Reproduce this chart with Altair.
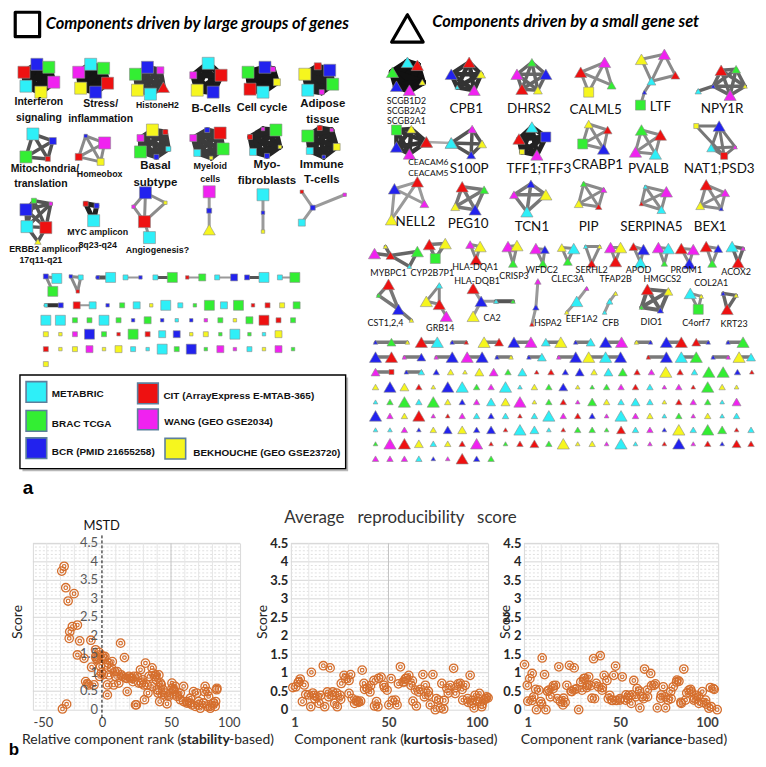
import altair as alt
import pandas as pd
from itertools import combinations

# ---------------- panel b data ----------------
STAB_RANK = [-29.1, -27.4, -26.2, -20.2, -24.5, -17.8, -21.4, -23.3, -23.7, -16.1, -8.0, -17.8, -13.0, -4.6, -4.2,
             -7.5, -1.7, -11.8, -10.6, -5.8, 3.9, 3.9, 2.1, 3.3, 7.5, 9.4, 13.5, 16.3, 8.5, 12.2, 18.3, 14.7, 17.1,
             20.7, 23.1, 24.3, 26.7, 27.9, 30.3, 31.5, 30.8, 34.0, 36.3, 35.9, 38.8, 40.0, 41.2, 42.4, 43.6, 47.1,
             48.3, 50.7, 51.9, 53.1, 54.3, 56.7, 59.1, 61.5, 63.9, 66.3, 68.7, 69.9, 73.5, 74.7, 76.7, 78.3, 80.7,
             83.1, 82.3, -28.6, -25.6, -3.3, -4.5, 1.4, -1.0, 4.6, 7.0, 5.1, 11.1, 9.9, 14.0, 17.8, 19.5, 21.9, 22.4,
             25.5, 28.5, 29.6, 32.7, 36.9, 38.2, 39.4, 42.9, 44.2, 46.0, 48.4, 50.8, 52.0, 54.4, 56.8, 59.2, 61.6,
             64.0, 65.2, 67.6, 70.0, 71.2, 73.6, 76.0, 78.4, 80.8, 82.0, 74.1, 77.2, 83.2, 41.8, 24.9, 40.6, 33.3,
             -9.6, -2.0, 0.5, -0.3, 1.0]
STAB_SCORE = [3.75, 3.88, 3.30, 3.14, 2.94, 2.29, 2.25, 2.11, 1.93, 1.86, 1.88, 1.48, 1.39, 1.62, 1.39,
              1.15, 0.90, 0.76, 0.70, 0.67, 0.67, 0.40, 1.44, 1.21, 1.30, 1.03, 1.80, 1.41, 0.67, 0.72, 0.49, 0.90,
              0.86, 0.86, 0.90, 0.13, 0.72, 1.08, 0.67, 1.26, 0.27, 0.90, 1.13, 0.63, 0.94, 0.54, 0.94, 0.72, 0.40,
              0.16, 0.40, 0.72, 0.54, 0.63, 0.36, 0.45, 0.63, 0.22, 0.18, 0.49, 0.45, 0.13, 0.18, 0.63, 0.49, 0.09,
              0.18, 0.54, 0.22, 0.02, 0.15, 1.35, 1.44, 1.39, 1.17, 1.26, 1.12, 0.94, 1.03, 0.90, 0.94, 0.85, 0.90,
              0.85, 0.76, 0.90, 0.72, 0.81, 0.67, 0.99, 0.90, 0.81, 0.67, 0.54, 0.45, 0.36, 0.58, 0.49, 0.40, 0.27,
              0.22, 0.18, 0.31, 0.13, 0.09, 0.22, 0.04, 0.18, 0.09, 0.04, 0.18, 0.09, 0.49, 0.36, 0.58, 0.22, 0.13,
              0.45, 0.45, 0.67, 1.55, 1.45, 1.00, 0.95]

KURT_RANK = [3.5, 4.7, 5.7, 7.7, 8.5, 6.8, 11, 11.3, 12.7, 14.3, 15.2, 16, 17.3, 18, 19.3, 20.7, 21.8, 23, 24.3,
             25.7, 26.3, 27.7, 28.5, 30.2, 30.2, 31.8, 33, 34.7, 36, 36.8, 37.7, 39.3, 40.7, 42.7, 44, 44.7, 46.3,
             47.7, 49.3, 50.2, 51.3, 53.5, 54.3, 56, 57.3, 58.5, 60.2, 61.3, 62.3, 63.5, 65.2, 67.3, 68.5, 70.2, 71,
             72.3, 73.5, 75.2, 76.8, 77.7, 79.3, 81, 82.7, 83.5, 86, 87.3, 88.5, 89.7, 91, 91.8, 93.5, 94.7, 95.7,
             96.8, 98, 99.3, 2, 5, 10, 12, 13, 20, 22, 24, 26, 31, 34, 35, 38, 41, 43, 45, 48, 52, 55, 58, 59, 62,
             64, 66, 68, 70, 74, 76, 78, 80, 84, 85, 87, 90, 92, 93, 95, 97, 99, 100]
KURT_SCORE = [0.62, 0.74, 0.83, 0.67, 0.41, 0.22, 0.08, 1.01, 0.39, 0.35, 0.17, 0.39, 1.19, 0.08, 0.48, 1.13,
              0.39, 0.17, 0.08, 0.39, 0.71, 0.93, 0.84, 0.79, 0.44, 0.30, 0.17, 0.22, 0.23, 1.07, 0.71, 0.58, 0.48,
              0.79, 0.22, 0.08, 0.88, 0.66, 0.53, 0.13, 0.84, 0.26, 0.13, 1.16, 0.75, 0.84, 0.93, 0.66, 0.23, 0.53,
              0.48, 0.95, 0.66, 0.39, 0.13, 0.95, 0.0, 0.26, 0.71, 0.02, 0.58, 0.66, 1.12, 0.44, 0.71, 0.26, 0.66,
              0.30, 0.93, 0.17, 0.39, 0.22, 0.44, 0.08, 0.26, 0.35, 0.60, 0.75, 0.40, 0.45, 0.30, 0.35, 0.48, 0.45,
              0.28, 0.95, 0.25, 0.20, 0.55, 0.65, 0.10, 0.85, 0.60, 0.25, 0.70, 0.75, 0.85, 0.78, 0.10, 0.55, 0.35,
              0.50, 0.30, 0.05, 0.25, 0.45, 0.60, 0.70, 0.55, 0.20, 0.25, 0.05, 0.30, 0.15, 0.30, 0.32]

VAR_RANK = [1.3, 2.7, 5.2, 4, 3, 7.4, 8.6, 10.3, 11.5, 9.5, 12.2, 13.7, 14.5, 15.9, 17.1, 18.8, 19.6, 20.9, 21.2,
            22.9, 24.2, 25.4, 26.6, 28, 28.9, 30.6, 31.5, 33.2, 34, 35.7, 36.5, 37.9, 39.9, 39, 40.8, 41.9, 43.3,
            44.7, 45.9, 46.8, 47.7, 49.9, 51.1, 52.8, 54.5, 55.7, 57, 58.7, 60.1, 61.3, 62.5, 63.9, 65.6, 67.3, 69,
            70.7, 72, 73.2, 74.4, 75.8, 77.1, 78.8, 80, 81.2, 82.5, 83.4, 85.1, 86.3, 87.6, 89, 90.2, 91.9, 93.6,
            95.3, 96.5, 97.5, 99.5, 5, 6, 7, 10, 13, 16, 18, 22, 25, 27, 30, 32, 33, 35, 37, 41, 44, 46, 48, 50, 53,
            54, 56, 58, 60, 62, 64, 66, 68, 71, 73, 76, 79, 81, 84, 86, 88, 90, 92, 94, 96, 98]
VAR_SCORE = [1.22, 0.66, 0.98, 0.84, 0.23, 0.0, 0.53, 1.40, 0.95, 0.22, 0.0, 0.53, 0.35, 0.57, 0.66, 1.16, 0.22,
             0.13, 0.31, 0.66, 1.20, 0.49, 1.13, 0.57, 0.0, 0.53, 0.84, 0.66, 0.89, 0.31, 1.38, 0.71, 1.46, 0.62,
             0.53, 0.93, 0.79, 0.39, 0.26, 0.93, 1.18, 0.26, 0.89, 0.26, 0.39, 0.17, 0.79, 0.57, 0.05, 0.35, 1.10,
             0.53, 0.98, 0.66, 0.05, 0.31, 0.62, 0.05, 0.26, 0.49, 0.62, 0.75, 0.77, 0.17, 1.10, 0.26, 0.53, 0.49,
             0.26, 0.39, 0.17, 0.49, 0.26, 0.04, 0.08, 0.57, 0.0, 0.25, 0.35, 0.55, 0.15, 0.50, 0.65, 0.30, 0.20,
             0.50, 0.55, 0.75, 0.85, 0.60, 0.65, 0.30, 0.60, 0.30, 0.25, 0.25, 0.30, 0.40, 0.30, 0.40, 0.35, 0.50,
             0.30, 0.35, 0.65, 0.70, 0.40, 0.35, 0.30, 0.80, 0.20, 0.45, 0.55, 0.30, 0.35, 0.20, 0.15, 0.60, 0.55]

# ---------------- panel a data ----------------
COL = {'C': '#2EEFF8', 'G': '#33EE33', 'B': '#2222EE', 'R': '#EE1111', 'M': '#F022F0', 'Y': '#F6F61E'}
SQ = {'t': 12, 's': 25, 'm': 49, 'L': 100, 'X': 145}
TR = {'t': 22, 's': 42, 'm': 80, 'L': 150}

LEFT_CLUSTERS = [
    ([(23, 70, 'RX'), (36, 62, 'BX'), (48, 65, 'GX'), (53, 80, 'MX'), (40, 90, 'YX'), (25, 84, 'CX')], 'all', '#151515', 6),
    ([(78, 70, 'MX'), (90, 62, 'CX'), (103, 66, 'GX'), (107, 81, 'RX'), (95, 90, 'BX'), (80, 86, 'YX')], 'all', '#151515', 6),
    ([(135, 72, 'GX'), (147, 65, 'BX'), (160, 68, 'Mm'), (163, 85, 'RLt'), (150, 92, 'CX'), (137, 88, 'YX')], 'all', '#3a3a3a', 5),
    ([(208, 61, 'CX'), (221, 73, 'RX'), (213, 90, 'BX'), (197, 88, 'YX'), (193, 73, 'Mm')], 'all', '#1a1a1a', 6),
    ([(265, 65, 'BX'), (273, 67, 'Ms'), (277, 80, 'Ym'), (263, 90, 'CX'), (250, 87, 'RX'), (248, 70, 'GX')], 'all', '#151515', 6),
    ([(318, 64, 'Rm'), (330, 68, 'BX'), (333, 82, 'GX'), (322, 90, 'Ms'), (308, 88, 'CX'), (305, 72, 'YX')], 'all', '#202020', 6),
    ([(32, 132, 'CX'), (52, 139, 'Bm'), (47, 157, 'Rs'), (25, 155, 'GX')], 'all', '#555555', 3.5),
    ([(85, 134, 'Bt'), (104, 141, 'MX'), (100, 160, 'Ym'), (78, 155, 'Rm')], 'all', '#8a8a8a', 3),
    ([(152, 128, 'YX'), (165, 130, 'Rs'), (168, 147, 'Cs'), (156, 155, 'Bs'), (140, 150, 'GX'), (140, 136, 'Mm')], 'all', '#3c3c3c', 5),
    ([(207, 128, 'Bs'), (220, 131, 'RX'), (223, 147, 'GX'), (211, 156, 'Yt'), (197, 151, 'Cm'), (193, 136, 'Mm')], 'all', '#3c3c3c', 5),
    ([(263, 127, 'Mt'), (276, 128, 'GX'), (280, 145, 'Yt'), (267, 154, 'Bs'), (253, 150, 'Cm'), (250, 135, 'Rs')], 'all', '#252525', 5),
    ([(320, 126, 'Rs'), (332, 128, 'Mt'), (337, 145, 'Ym'), (324, 155, 'Bt'), (310, 149, 'Cm'), (308, 134, 'GX')], 'all', '#252525', 5),
    ([(33, 199, 'Gs'), (50, 202, 'Mt'), (25, 208, 'BX'), (26, 225, 'CX'), (45, 226, 'RX'), (37, 240, 'Yst')],
     [(0, 1), (0, 2), (0, 3), (0, 4), (1, 2), (1, 3), (1, 4), (2, 3), (2, 4), (3, 4), (3, 5), (4, 5)], '#555555', 3.5),
    ([(85, 202, 'Rs'), (96, 204, 'Bs'), (93, 219, 'CX')], 'all', '#222222', 5),
    ([(145, 191, 'BX'), (133, 205, 'Mt'), (165, 201, 'Yt'), (144, 220, 'RX'), (149, 236, 'CX')],
     [(0, 1), (0, 2), (1, 3), (2, 3), (0, 3), (3, 4)], '#8c8c8c', 3),
    ([(209, 190, 'MX'), (209, 209, 'Bs'), (209, 228, 'YLt')], [(0, 1), (1, 2)], '#9a9a9a', 3),
    ([(263, 193, 'CX'), (263, 211, 'Bt'), (263, 230, 'Yt')], [(0, 1), (1, 2)], '#9a9a9a', 3),
    ([(302, 190, 'Rt'), (313, 206, 'Bs'), (345, 193, 'Mt'), (302, 221, 'Cm')], [(0, 1), (1, 2), (1, 3)], '#9a9a9a', 3),
    ([(45, 275, 'Bs'), (56, 277, 'CL'), (52, 290, 'GL')], [(0, 1), (0, 2)], '#8a8a8a', 3),
    ([(70, 275, 'Bt'), (80, 276, 'Cs'), (77, 290, 'Rt')], 'all', '#8a8a8a', 3),
    ([(97, 276, 'Bt'), (110, 276, 'CL')], 'all', '#555555', 4),
    ([(125, 276, 'Cs'), (140, 276, 'Bt')], 'all', '#9a9a9a', 2),
    ([(155, 276, 'Cs'), (172, 276, 'GL')], 'all', '#555555', 3),
    ([(187, 276, 'Rt'), (202, 276, 'Gm')], 'all', '#9a9a9a', 2),
    ([(217, 276, 'Cs'), (234, 276, 'Bm')], 'all', '#9a9a9a', 2),
    ([(247, 276, 'Bs'), (264, 276, 'CL')], 'all', '#555555', 3),
    ([(280, 276, 'Cs'), (295, 276, 'GL')], 'all', '#9a9a9a', 2),
    ([(45, 304, 'Ct'), (60, 304, 'Bs')], 'all', '#333333', 4),
    ([(76, 304, 'Rm'), (92, 304, 'Cm')], 'all', '#9a9a9a', 2),
]

RIGHT_CLUSTERS = [
    ([(408, 60, 'CL'), (418, 63, 'RL'), (393, 70, 'GL'), (423, 80, 'Ys'), (397, 84, 'BL'), (410, 88, 'ML')], 'all', '#111111', 7),
    ([(470, 60, 'RL'), (452, 72, 'BL'), (482, 72, 'Ym'), (475, 88, 'ML'), (458, 85, 'Ct')], 'all', '#333333', 4.5),
    ([(533, 60, 'Gm'), (518, 72, 'ML'), (547, 72, 'BL'), (523, 87, 'RL'), (539, 88, 'Ym')], 'all', '#666666', 3.5),
    ([(582, 70, 'RL'), (606, 60, 'ML'), (613, 83, 'Gm'), (590, 90, 'YLq')], [(0, 1), (1, 2), (0, 2), (0, 3), (1, 3)], '#8a8a8a', 3),
    ([(643, 57, 'YL'), (666, 52, 'ML'), (677, 73, 'Rm'), (653, 79, 'Cm'), (646, 90, 'Bt'), (642, 103, 'GLq')],
     [(0, 1), (1, 2), (1, 3), (0, 3), (2, 3), (3, 4), (4, 5)], '#8a8a8a', 3),
    ([(723, 68, 'RL'), (738, 67, 'Gm'), (747, 84, 'Yt'), (732, 93, 'ML'), (715, 84, 'Bt'), (700, 89, 'Cs')],
     [(0, 1), (0, 2), (0, 3), (0, 4), (1, 2), (1, 3), (1, 4), (2, 3), (2, 4), (3, 4), (4, 5)], '#666666', 3.5),
    ([(397, 128, 'GLq'), (412, 127, 'Ym'), (427, 140, 'RL'), (410, 152, 'ML'), (397, 145, 'BL')], 'all', '#333333', 4.5),
    ([(427, 140, 'RL'), (452, 141, 'CL')], 'all', '#aaaaaa', 2.5),
    ([(452, 141, 'CL'), (473, 127, 'Mm'), (483, 142, 'Ym'), (472, 153, 'Bm')], 'all', '#555555', 3.5),
    ([(533, 125, 'CL'), (547, 135, 'BLq'), (538, 153, 'ML'), (523, 150, 'Ysq'), (520, 137, 'RL')], 'all', '#222222', 5),
    ([(590, 122, 'Ym'), (609, 128, 'Rm'), (605, 147, 'BL'), (584, 142, 'GLq')], 'all', '#8a8a8a', 3),
    ([(643, 128, 'GL'), (662, 133, 'RL'), (657, 152, 'CL'), (637, 150, 'ML')], 'all', '#8a8a8a', 3),
    ([(698, 124, 'Ysq'), (721, 124, 'BL'), (713, 146, 'Cm'), (737, 145, 'Mt'), (726, 154, 'Rmq')],
     [(0, 1), (0, 4), (1, 2), (1, 3), (1, 4), (2, 3), (2, 4), (3, 4)], '#777777', 3),
    ([(395, 187, 'BL'), (418, 180, 'RL'), (425, 202, 'Mm'), (392, 218, 'YL')], [(0, 1), (1, 2), (0, 2), (1, 3), (0, 3)], '#9a9a9a', 3),
    ([(463, 185, 'RL'), (485, 188, 'Gm'), (476, 208, 'BL'), (456, 205, 'Ym')], 'all', '#777777', 3.5),
    ([(532, 182, 'Bm'), (547, 193, 'YL'), (528, 210, 'CL'), (515, 193, 'Mm')], 'all', '#777777', 3.5),
    ([(585, 182, 'Gs'), (605, 188, 'Ms'), (600, 205, 'Rs'), (580, 202, 'Ym')], 'all', '#8a8a8a', 3),
    ([(647, 185, 'Ct'), (668, 190, 'ML'), (663, 208, 'Cm'), (643, 202, 'Rt')], 'all', '#8a8a8a', 3),
    ([(708, 183, 'RL'), (727, 191, 'Mm'), (723, 207, 'Bt'), (702, 204, 'Ym')], 'all', '#8a8a8a', 3),
    ([(375, 252, 'ML'), (391, 254, 'Rm'), (418, 250, 'GL'), (410, 265, 'Ct'), (386, 245, 'Yt')],
     [(0, 1), (1, 2), (1, 3), (2, 3), (1, 4)], '#666666', 3.5),
    ([(430, 243, 'RL'), (446, 242, 'YL'), (436, 257, 'GLq')], 'all', '#777777', 3.5),
    ([(471, 243, 'Mm'), (481, 245, 'YL'), (477, 258, 'RL')], 'all', '#888888', 3),
    ([(509, 245, 'ML'), (518, 244, 'YL'), (514, 262, 'Gm')], 'all', '#888888', 3),
    ([(537, 247, 'ML'), (546, 248, 'Bm'), (544, 262, 'Gm')], 'all', '#888888', 3),
    ([(563, 246, 'Ym'), (575, 247, 'CL'), (569, 260, 'Gm')], 'all', '#888888', 3),
    ([(587, 245, 'Ct'), (601, 245, 'Yt'), (593, 262, 'Rm')], 'all', '#888888', 3),
    ([(612, 246, 'ML'), (622, 246, 'YL'), (617, 260, 'RL')], 'all', '#888888', 3),
    ([(635, 245, 'Rm'), (645, 248, 'BL'), (642, 261, 'CL')], 'all', '#888888', 3),
    ([(660, 246, 'ML'), (670, 247, 'CL'), (666, 262, 'Gs')], 'all', '#888888', 3),
    ([(683, 247, 'RL'), (695, 248, 'ML'), (691, 262, 'BL')], 'all', '#888888', 3),
    ([(708, 245, 'RL'), (720, 247, 'Bm'), (714, 262, 'Gm')], 'all', '#888888', 3),
    ([(734, 245, 'CL'), (745, 247, 'Mt'), (740, 261, 'RL')], 'all', '#666666', 3.5),
    ([(389, 283, 'RL'), (379, 294, 'Gt'), (399, 308, 'BL'), (412, 319, 'Yt')], [(0, 1), (0, 2), (1, 2), (2, 3)], '#777777', 3.5),
    ([(440, 284, 'Cs'), (427, 300, 'YL'), (440, 303, 'RL'), (447, 315, 'ML')], [(0, 2), (1, 2), (2, 3), (0, 1)], '#888888', 3),
    ([(474, 287, 'RL'), (482, 300, 'BL'), (474, 315, 'YL'), (497, 300, 'Ct')], [(0, 1), (1, 2), (1, 3)], '#999999', 3),
    ([(497, 300, 'Ct'), (514, 300, 'Gt')], 'all', '#555555', 4),
    ([(539, 280, 'Ms'), (537, 306, 'Bs'), (533, 323, 'Rt')], [(0, 1), (1, 2)], '#999999', 3),
    ([(588, 287, 'Mt'), (578, 300, 'CL'), (568, 311, 'Yt')], [(0, 1), (1, 2)], '#999999', 3),
    ([(617, 292, 'Yt'), (611, 300, 'Cs'), (606, 311, 'Ct')], [(0, 1), (1, 2)], '#999999', 3),
    ([(649, 288, 'RL'), (670, 290, 'Ym'), (662, 309, 'Bs'), (643, 306, 'Gt')], 'all', '#666666', 4),
    ([(692, 292, 'CL'), (703, 295, 'Yt'), (700, 308, 'GLq')], 'all', '#888888', 3),
    ([(725, 292, 'Bt'), (738, 294, 'Yt'), (729, 308, 'RL')], 'all', '#666666', 3.5),
]

# connected pairs of the small gene set components (rows of two or three)
PAIR_ROWS = [
    (341, [[(376, 'Bt'), (392, 'Gm'), (408, 'Yt')], [(422, 'RL'), (438, 'CL')], [(453, 'Bt'), (467, 'Rt')],
           [(485, 'YL'), (500, 'Rm')], [(515, 'BL'), (532, 'ML')], [(547, 'Cm'), (562, 'YL')],
           [(577, 'Bt'), (592, 'Cm')], [(607, 'BL'), (623, 'ML')], [(638, 'Yt'), (652, 'Bt')],
           [(668, 'BL'), (683, 'RL')], [(698, 'Rm'), (710, 'Bt')], [(730, 'Bt'), (745, 'GL')]]),
    (356, [[(376, 'BL'), (392, 'RL')], [(405, 'Mt'), (422, 'Bm')], [(437, 'Mt'), (453, 'BL')],
           [(468, 'ML'), (483, 'BL')], [(498, 'Bt'), (512, 'Yt')], [(530, 'Bt'), (543, 'Cm')],
           [(560, 'Mt'), (577, 'BL')], [(590, 'YL'), (607, 'CL'), (622, 'BL')], [(650, 'Rt'), (668, 'BL')],
           [(683, 'CL'), (698, 'GL')], [(715, 'Bt'), (730, 'Mt')], [(741, 'YL'), (753, 'Cm')]]),
    (371, [[(376, 'Mm'), (392, 'Rsq')], [(407, 'Bt'), (422, 'Cs')]]),
]

# single (unconnected) components: (y, first x, step, tokens)
LEFT_SINGLES = [
    (304, 107, 14.6, 'Bt Gs Cm Yt CL Cs Gt GL Cm GL Rt Rs Ys Gm'),
    (319, 45, 14.6, 'CL CL Gs Gs CL Gs Bt Gm Bt Ct Bt Mt Gs Yt Gm RL Rs Gs'),
    (333, 45, 14.6, 'Ys Yt Ms BL Gs Rt GL Rs Cm Bm Yt Ys Gt CL Gt Ct Ym'),
    (348, 45, 14.6, 'Rs Yt Ys Mm Yt Ym Cs Ct CL Gs BL Gt Mm Mt Cs Yt Mm Gt'),
    (363, 45, 14.6, 'Ys'),
]
RIGHT_SINGLES = [
    (371, 437, 14.4, 'Bs Ys Yt Ym Mm Gs Cm Rt Rs Bs Bm Ys Cm Gm Rs Ms YL Rs Cs GL GL Bs Rt'),
    (386, 376, 14.5, 'Ys BL Ym Rs Yt BL CL Gs Ms CL Ct Ys Gs Bm Yt Gt Gs Ms Rs Cs Mt Ms Rt GL Ys Yt'),
    (401, 376, 14.5, 'Ct Gs GL Cs GL Ys Bs Ms Cm Ym ML Yt Gs Rs Mt Gm Ys Cs Cm Cs Yt Rs Ms Gs Ct Mm'),
    (415, 376, 14.5, 'BL Ms Ys RL Mt Rt Ms Cs Bs Cs Rt Cs CL Ms Rs Bs Mt CL Ms Ys Ct Gs Mt Ys Ct Cs'),
    (429, 376, 14.5, 'Ct Ct Ms Bt Ys Bm Ym Bs Bm Rt CL Cm Ct Rt Gs Gs Gt Rm Cs Ms Bt YL Cs GL Gm Rt Cs'),
    (443, 376, 14.5, 'Gt ML RL Ym Cs Ys Rs ML Rt Gt Rs Rm Gs YL Yt Ys Mt CL Ct Mt Rt BL Mt Rs Bt Rm Rs'),
    (458, 376, 14.5, 'Ms Ms Ms Cs Bt Mt RL Bs Gs'),
]

LEFT_LABELS = [
    ('Interferon', 38, 100, 10.5), ('signaling', 38, 116, 10.5), ('Stress/', 100, 102, 10.5),
    ('inflammation', 100, 117, 10.5), ('HistoneH2', 157, 103, 8.7), ('B-Cells', 211, 107, 11.5),
    ('Cell cycle', 262, 106, 11), ('Adipose', 323, 102, 11.5), ('tissue', 323, 118, 11.5),
    ('Mitochondria/', 44, 167, 10.5), ('translation', 40, 182, 10.5), ('Homeobox', 99, 172, 8.9),
    ('Basal', 155, 164, 11.5), ('subtype', 155, 181, 11.5), ('Myeloid', 210, 164, 9), ('cells', 210, 177, 9),
    ('Myo-', 267, 163, 11.5), ('fibroblasts', 267, 179, 11.5), ('Immune', 322, 163, 11.5), ('T-cells', 322, 178, 11.5),
    ('ERBB2 amplicon', 44, 247, 8.9), ('17q11-q21', 40, 259, 8.9), ('MYC amplicon', 97, 230, 8.9),
    ('8q23-q24', 97, 243, 8.9), ('Angiogenesis?', 157, 248, 8.9),
]
RIGHT_LABELS = [
    ('SCGB1D2', 407, 99, 8.8), ('SCGB2A2', 407, 109, 8.8), ('SCGB2A1', 407, 119, 8.8),
    ('CPB1', 467, 107, 13.5), ('DHRS2', 530, 107, 13.5), ('CALML5', 597, 108, 13.5), ('LTF', 662, 105, 13.5),
    ('NPY1R', 724, 107, 13.5), ('CEACAM6', 429, 160, 8.5), ('CEACAM5', 429, 171, 8.5), ('S100P', 470, 167, 13.5),
    ('TFF1;TFF3', 540, 167, 13.5), ('CRABP1', 599, 163, 13.5), ('PVALB', 650, 167, 13.5), ('NAT1;PSD3', 721, 167, 13.5),
    ('NELL2', 416, 220, 13.5), ('PEG10', 469, 222, 13.5), ('TCN1', 533, 225, 13.5), ('PIP', 590, 225, 13.5),
    ('SERPINA5', 653, 225, 13.5), ('BEX1', 712, 225, 13.5),
    ('MYBPC1', 389, 272, 9), ('CYP2B7P1', 433, 272, 9), ('HLA-DQA1', 476, 266, 9), ('HLA-DQB1', 478, 280, 9),
    ('CRISP3', 515, 275, 9), ('WFDC2', 543, 269, 9), ('CLEC3A', 569, 278, 9), ('SERHL2', 593, 269, 9),
    ('TFAP2B', 617, 278, 9), ('APOD', 640, 269, 9), ('HMGCS2', 664, 278, 9), ('PROM1', 688, 269, 9),
    ('COL2A1', 713, 282, 9), ('ACOX2', 738, 271, 9),
    ('CST1,2,4', 386, 322, 9), ('GRB14', 441, 327, 9), ('CA2', 493, 317, 9), ('HSPA2', 549, 322, 9),
    ('EEF1A2', 583, 318, 9), ('CFB', 612, 322, 9), ('DIO1', 653, 321, 9), ('C4orf7', 698, 322, 9),
    ('KRT23', 736, 323, 9),
]
LEGEND_ITEMS = [('METABRIC', 'C', 35.5, 391, 51, 393), ('BRAC TCGA', 'G', 35.5, 420, 51, 423),
                ('BCR (PMID 21655258)', 'B', 35.5, 447.5, 51, 451),
                ('CIT (ArrayExpress E-MTAB-365)', 'R', 147.5, 392.5, 163, 395),
                ('WANG (GEO GSE2034)', 'M', 147.5, 418.5, 164, 421),
                ('BEKHOUCHE (GEO GSE23720)', 'Y', 175, 448, 193, 452)]
HEADERS = [('Components driven by large groups of genes', 45, 22),
           ('Components driven by a small gene set', 433, 20)]

# ---------------- build panel a tables ----------------
def parse(spec, default_shape):
    shp = default_shape
    if len(spec) > 2:
        shp = 'square' if spec[2] == 'q' else 'triangle-up'
    size = (SQ if shp == 'square' else TR)[spec[1]]
    return COL[spec[0]], shp, size


node_rows, edge_rows = [], []


def add_cluster(nodes, edges, ec, ew, shape):
    pairs = list(combinations(range(len(nodes)), 2)) if edges == 'all' else edges
    for i, j in pairs:
        edge_rows.append(dict(x=nodes[i][0], y=nodes[i][1], x2=nodes[j][0], y2=nodes[j][1], ec=ec, ew=ew))
    for x, y, spec in nodes:
        fill, shp, size = parse(spec, shape)
        node_rows.append(dict(x=x, y=y, fill=fill, shape=shp, size=size))


for nodes, edges, ec, ew in LEFT_CLUSTERS:
    add_cluster(nodes, edges, ec, ew, 'square')
for nodes, edges, ec, ew in RIGHT_CLUSTERS:
    add_cluster(nodes, edges, ec, ew, 'triangle-up')
for y, groups in PAIR_ROWS:
    for g in groups:
        nodes = [(x, y, s) for x, s in g]
        add_cluster(nodes, [(k, k + 1) for k in range(len(nodes) - 1)], '#7a7a7a', 3.5, 'triangle-up')
for y, x0, step, toks in LEFT_SINGLES:
    for k, t in enumerate(toks.split()):
        add_cluster([(x0 + k * step, y, t)], [], '#888', 1, 'square')
for y, x0, step, toks in RIGHT_SINGLES:
    for k, t in enumerate(toks.split()):
        add_cluster([(x0 + k * step, y, t)], [], '#888', 1, 'triangle-up')

nodes_df = pd.DataFrame(node_rows)
edges_df = pd.DataFrame(edge_rows)

XS = alt.Scale(domain=[32, 758], nice=False, zero=False)
YS = alt.Scale(domain=[8, 500], nice=False, zero=False, reverse=True)


def PX(f='x'):
    return alt.X(f, type='quantitative', scale=XS, axis=None)


def PY(f='y'):
    return alt.Y(f, type='quantitative', scale=YS, axis=None)


anchor = alt.Chart(pd.DataFrame({'x': [8.6], 'y': [8.6]})).mark_point(size=1, opacity=0).encode(x=PX(), y=PY())

legend_box = pd.DataFrame({'x': [19], 'x2': [346], 'y': [374], 'y2': [468]})
shadow_box = pd.DataFrame({'x': [21.5], 'x2': [348.5], 'y': [376.5], 'y2': [470.5]})
shadow = alt.Chart(shadow_box).mark_rect(fill='#9a9a9a', opacity=0.7).encode(
    x=PX('x'), x2='x2', y=PY('y'), y2='y2')
box = alt.Chart(legend_box).mark_rect(fill='white', stroke='black', strokeWidth=1.4).encode(
    x=PX('x'), x2='x2', y=PY('y'), y2='y2')

edges = alt.Chart(edges_df).mark_rule(strokeCap='round').encode(
    x=PX('x'), y=PY('y'), x2='x2', y2='y2',
    color=alt.Color('ec:N', scale=None), strokeWidth=alt.StrokeWidth('ew:Q', scale=None))
nodes = alt.Chart(nodes_df).mark_point(filled=True, opacity=1, stroke='#8c8c8c', strokeWidth=0.6).encode(
    x=PX(), y=PY(), shape=alt.Shape('shape:N', scale=None), fill=alt.Fill('fill:N', scale=None),
    size=alt.Size('size:Q', scale=None))

hdr_sym = pd.DataFrame({'x': [26.5, 408], 'y': [22, 26], 'shape': ['square', 'triangle-up'], 'size': [600, 1000]})
header_symbols = alt.Chart(hdr_sym).mark_point(filled=False, opacity=1, stroke='black', strokeWidth=3.2,
                                               strokeJoin='round').encode(
    x=PX(), y=PY(), shape=alt.Shape('shape:N', scale=None), size=alt.Size('size:Q', scale=None))

leg_df = pd.DataFrame([dict(t=t, fill=COL[c], sx=sx, sy=sy, tx=tx, ty=ty) for t, c, sx, sy, tx, ty in LEGEND_ITEMS])
leg_sw = alt.Chart(leg_df).mark_point(shape='square', filled=True, opacity=1, size=430, stroke='#5d7f9c',
                                      strokeWidth=1.6).encode(
    x=PX('sx'), y=PY('sy'), fill=alt.Fill('fill:N', scale=None))
leg_txt = alt.Chart(leg_df).mark_text(align='left', baseline='middle', font='Liberation Sans', fontWeight='bold',
                                      fontSize=10, color='#111111').encode(x=PX('tx'), y=PY('ty'), text='t:N')

ll_df = pd.DataFrame(LEFT_LABELS, columns=['t', 'x', 'y', 'fs'])
left_lab = alt.Chart(ll_df).mark_text(align='center', baseline='middle', font='Liberation Sans',
                                      fontWeight='bold', color='#111111').encode(
    x=PX(), y=PY(), text='t:N', size=alt.Size('fs:Q', scale=None))
rl_df = pd.DataFrame(RIGHT_LABELS, columns=['t', 'x', 'y', 'fs'])
right_lab = alt.Chart(rl_df).mark_text(align='center', baseline='middle', font='Lato', color='#111111').encode(
    x=PX(), y=PY(), text='t:N', size=alt.Size('fs:Q', scale=None))
hd_df = pd.DataFrame(HEADERS, columns=['t', 'x', 'y'])
headers = alt.Chart(hd_df).mark_text(align='left', baseline='middle', font='Lato', fontWeight='bold',
                                     fontStyle='italic', fontSize=16.5, color='black').encode(
    x=PX(), y=PY(), text='t:N')
a_lab = alt.Chart(pd.DataFrame({'t': ['a'], 'x': [27], 'y': [487]})).mark_text(
    align='center', baseline='middle', font='Liberation Sans', fontWeight='bold', fontSize=19, color='black').encode(
    x=PX(), y=PY(), text='t:N')

panel_a = alt.layer(anchor, shadow, box, edges, nodes, header_symbols, leg_sw, leg_txt, left_lab, right_lab,
                    headers, a_lab).properties(width=726, height=492)

# ---------------- panel b ----------------
ORANGE = '#D56F2E'
ONE = pd.DataFrame({'k': [0]})
YT = [i / 2 for i in range(10)]
HMINOR = [i / 10 for i in range(1, 45) if i % 5]
NB = '\u00a0'


def txt(px, py, t, **kw):
    base = dict(font='Lato', fontSize=14, color='#262626', baseline='middle')
    base.update(kw)
    return alt.Chart(ONE).mark_text(text=t, **base).encode(x=alt.value(px), y=alt.value(py))


def scatter(rank, score, xdom, xticks, vminor, vmajor, width, left, pieces, score_x, extra):
    df = pd.DataFrame({'rank': rank, 'score': score})
    xs = alt.Scale(domain=xdom, nice=False, zero=False)
    ys = alt.Scale(domain=[0, 4.5], nice=False, zero=False)
    ax = alt.Axis(values=xticks, labelExpr="'' + datum.value", grid=False, ticks=False, domain=False,
                  labelFont='Lato', labelFontSize=13, labelColor='#404040',
                  labelFontWeight='normal' if left else 'bold', labelPadding=7, title=None)
    ay = None if left else alt.Axis(values=YT, labelExpr="'' + datum.value", grid=False, ticks=False,
                                    domain=False, labelFont='Lato', labelFontSize=13, labelColor='#262626',
                                    labelFontWeight='bold', labelPadding=3, title=None)

    def X(f):
        return alt.X(f, type='quantitative', scale=xs, axis=ax)

    def Y(f):
        return alt.Y(f, type='quantitative', scale=ys, axis=ay)

    layers = [
        alt.Chart(pd.DataFrame({'g': HMINOR})).mark_rule(color='#E0E0E0', strokeDash=[2, 2], strokeWidth=1).encode(y=Y('g')),
        alt.Chart(pd.DataFrame({'g': YT[1:]})).mark_rule(color='#D6D6D6', strokeWidth=1).encode(y=Y('g')),
        alt.Chart(pd.DataFrame({'g': vminor})).mark_rule(color='#E6E6E6', strokeWidth=1).encode(x=X('g')),
        alt.Chart(pd.DataFrame({'g': vmajor})).mark_rule(color='#C4C4C4', strokeWidth=1).encode(x=X('g')),
        alt.Chart(df).mark_point(shape='circle', filled=False, opacity=1, color=ORANGE, size=72,
                                 strokeWidth=1.3).encode(x=X('rank'), y=Y('score')),
        alt.Chart(df).mark_point(shape='circle', filled=False, opacity=1, color=ORANGE, size=13,
                                 strokeWidth=1.2).encode(x=X('rank'), y=Y('score')),
    ]
    if left:
        lab_df = pd.DataFrame({'v': YT, 't': ['0', '0.5', '1', '1.5', '2', '2.5', '3', '3.5', '4', '4.5']})
        layers.append(alt.Chart(lab_df).mark_text(align='right', baseline='middle', dx=-4, font='Lato',
                                                  fontSize=13, color='#595959').encode(
            x=alt.XDatum(0, type='quantitative', scale=xs, axis=ax), y=alt.Y('v', type='quantitative', scale=ys, axis=None),
            text='t:N'))
        layers.append(alt.Chart(ONE).mark_rule(color='black', strokeDash=[3, 2], strokeWidth=1).encode(
            x=alt.XDatum(0, type='quantitative', scale=xs, axis=ax), y=alt.value(-8), y2=alt.value(176)))
    pre, bold, post, c, wb = pieces
    layers.append(txt(c - wb / 2, 197, pre, align='right'))
    layers.append(txt(c, 197, bold, align='center', fontWeight='bold'))
    layers.append(txt(c + wb / 2, 197, post, align='left'))
    layers.append(txt(score_x, 79, 'Score', align='center', angle=270))
    layers.extend(extra)
    return alt.layer(*layers).properties(width=width, height=167,
                                         view=alt.ViewBackground(stroke='#D9D9D9', strokeWidth=1))


def spacer(w):
    return alt.Chart(ONE).mark_point(opacity=0, size=1).encode(
        x=alt.value(0), y=alt.value(0)).properties(width=w, height=167)


left = scatter(STAB_RANK, STAB_SCORE, [-50, 100], [-50, 0, 50, 100],
               [-40, -30, -20, -10, 10, 20, 30, 40, 60, 70, 80, 90], [50], 208, True,
               ('Relative component rank (', 'stability', '-based)', 173, 48), -15,
               [txt(69, -17, 'MSTD', align='center', fontSize=13, color='#111111'),
                txt(-19, 216, 'b', align='center', baseline='bottom', font='Liberation Sans', fontWeight='bold',
                    fontSize=17, color='black')])
middle = scatter(KURT_RANK, KURT_SCORE, [1, 100], [1, 50, 100],
                 [10, 20, 30, 40, 60, 70, 80, 90], [50], 198, False,
                 ('Component rank (', 'kurtosis', '-based)', 138, 49), -28,
                 [txt(110, -25, 'Average' + NB * 3 + 'reproducibility' + NB * 3 + 'score', align='center',
                      fontSize=17, color='#333333')])
right = scatter(VAR_RANK, VAR_SCORE, [1, 100], [1, 50, 100],
                [10, 20, 30, 40, 60, 70, 80, 90], [50], 195, False,
                ('Component rank (', 'variance', '-based)', 133, 52), -18, [])

# gaps between plot areas: 51 px (left -> middle) and 36 px (middle -> right)
row = alt.hconcat(left, spacer(21), middle, spacer(6), right, spacing=15, bounds='flush')
chart = alt.vconcat(panel_a, row, spacing=43, bounds='flush').properties(padding=0).configure_view(
    stroke='transparent')

chart.save("out.html", embed_options={"renderer": "svg", "actions": False})
